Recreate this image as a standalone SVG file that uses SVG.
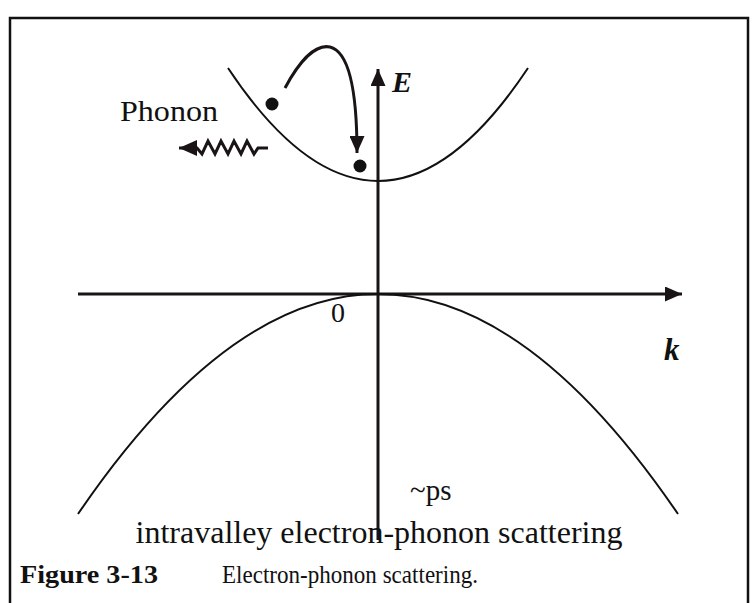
<svg xmlns="http://www.w3.org/2000/svg" width="754" height="603" viewBox="0 0 754 603">
<style>
.frame{fill:none;stroke:#111;stroke-width:2.5}
.axis{fill:none;stroke:#1a1414;stroke-width:3}
.band{fill:none;stroke:#111;stroke-width:2}
.arc{fill:none;stroke:#1a1414;stroke-width:3}
.t{font-family:"Liberation Serif","Times New Roman",serif;fill:#111}
.bi{font-family:"Liberation Serif","Times New Roman",serif;font-weight:bold;font-style:italic;fill:#111}
</style>
<defs>
<marker id="ah" viewBox="0 0 17 15" refX="17" refY="7.5" markerWidth="17" markerHeight="15" orient="auto" markerUnits="userSpaceOnUse">
<path d="M0,0 L17,7.5 L0,15 z" fill="#1a1414"/>
</marker>
<marker id="ah2" viewBox="0 0 18 16" refX="18" refY="8" markerWidth="18" markerHeight="16" orient="auto" markerUnits="userSpaceOnUse">
<path d="M0,0 L18,8 L0,16 z" fill="#1a1414"/>
</marker>
</defs>
<rect width="754" height="603" fill="#fff"/>
<path class="frame" d="M10,610 V18 H748 V610"/>
<g id="connectors">
<path id="k-axis" class="axis" d="M78,294 H682" marker-end="url(#ah)"/>
<path id="E-axis" class="axis" d="M378,540 V69" marker-end="url(#ah)"/>
<path id="scatter-arrow" class="arc" d="M285,88 C300,60 316,44 330,47 C350,52 357,95 357,153" marker-end="url(#ah)"/>
<path id="phonon-wave" fill="none" stroke="#1a1414" stroke-width="3" stroke-linejoin="miter" d="M268,148 H258 L254,154 L247,141 L241,154 L234,141 L228,154 L221,141 L215,154 L208,141 L202,154 L197,148 H179" marker-end="url(#ah2)"/>
</g>
<g id="conduction-band"><path class="band" d="M228,68 Q378,294 528,68"/></g>
<g id="valence-band"><path class="band" d="M78,514 Q378,74 678,514"/></g>
<g id="electron-1"><circle cx="272" cy="104" r="6.5" fill="#111"/></g>
<g id="electron-2"><circle cx="360" cy="166" r="6.5" fill="#111"/></g>
<g id="labels">
<text class="bi" x="392" y="92" font-size="30">E</text>
<text class="bi" x="664" y="360" font-size="31">k</text>
<text class="t" x="331" y="322" font-size="28">0</text>
<text class="t" x="120" y="121" font-size="30" textLength="98" lengthAdjust="spacingAndGlyphs">Phonon</text>
<text class="t" x="410" y="500" font-size="29">~ps</text>
<text class="t" x="379" y="543" font-size="32" text-anchor="middle">intravalley electron-phonon scattering</text>
<text class="t" x="20" y="583" font-size="26" font-weight="bold" textLength="138" lengthAdjust="spacingAndGlyphs">Figure 3-13</text>
<text class="t" x="222" y="583" font-size="25" textLength="256" lengthAdjust="spacingAndGlyphs">Electron-phonon scattering.</text>
</g>
</svg>
